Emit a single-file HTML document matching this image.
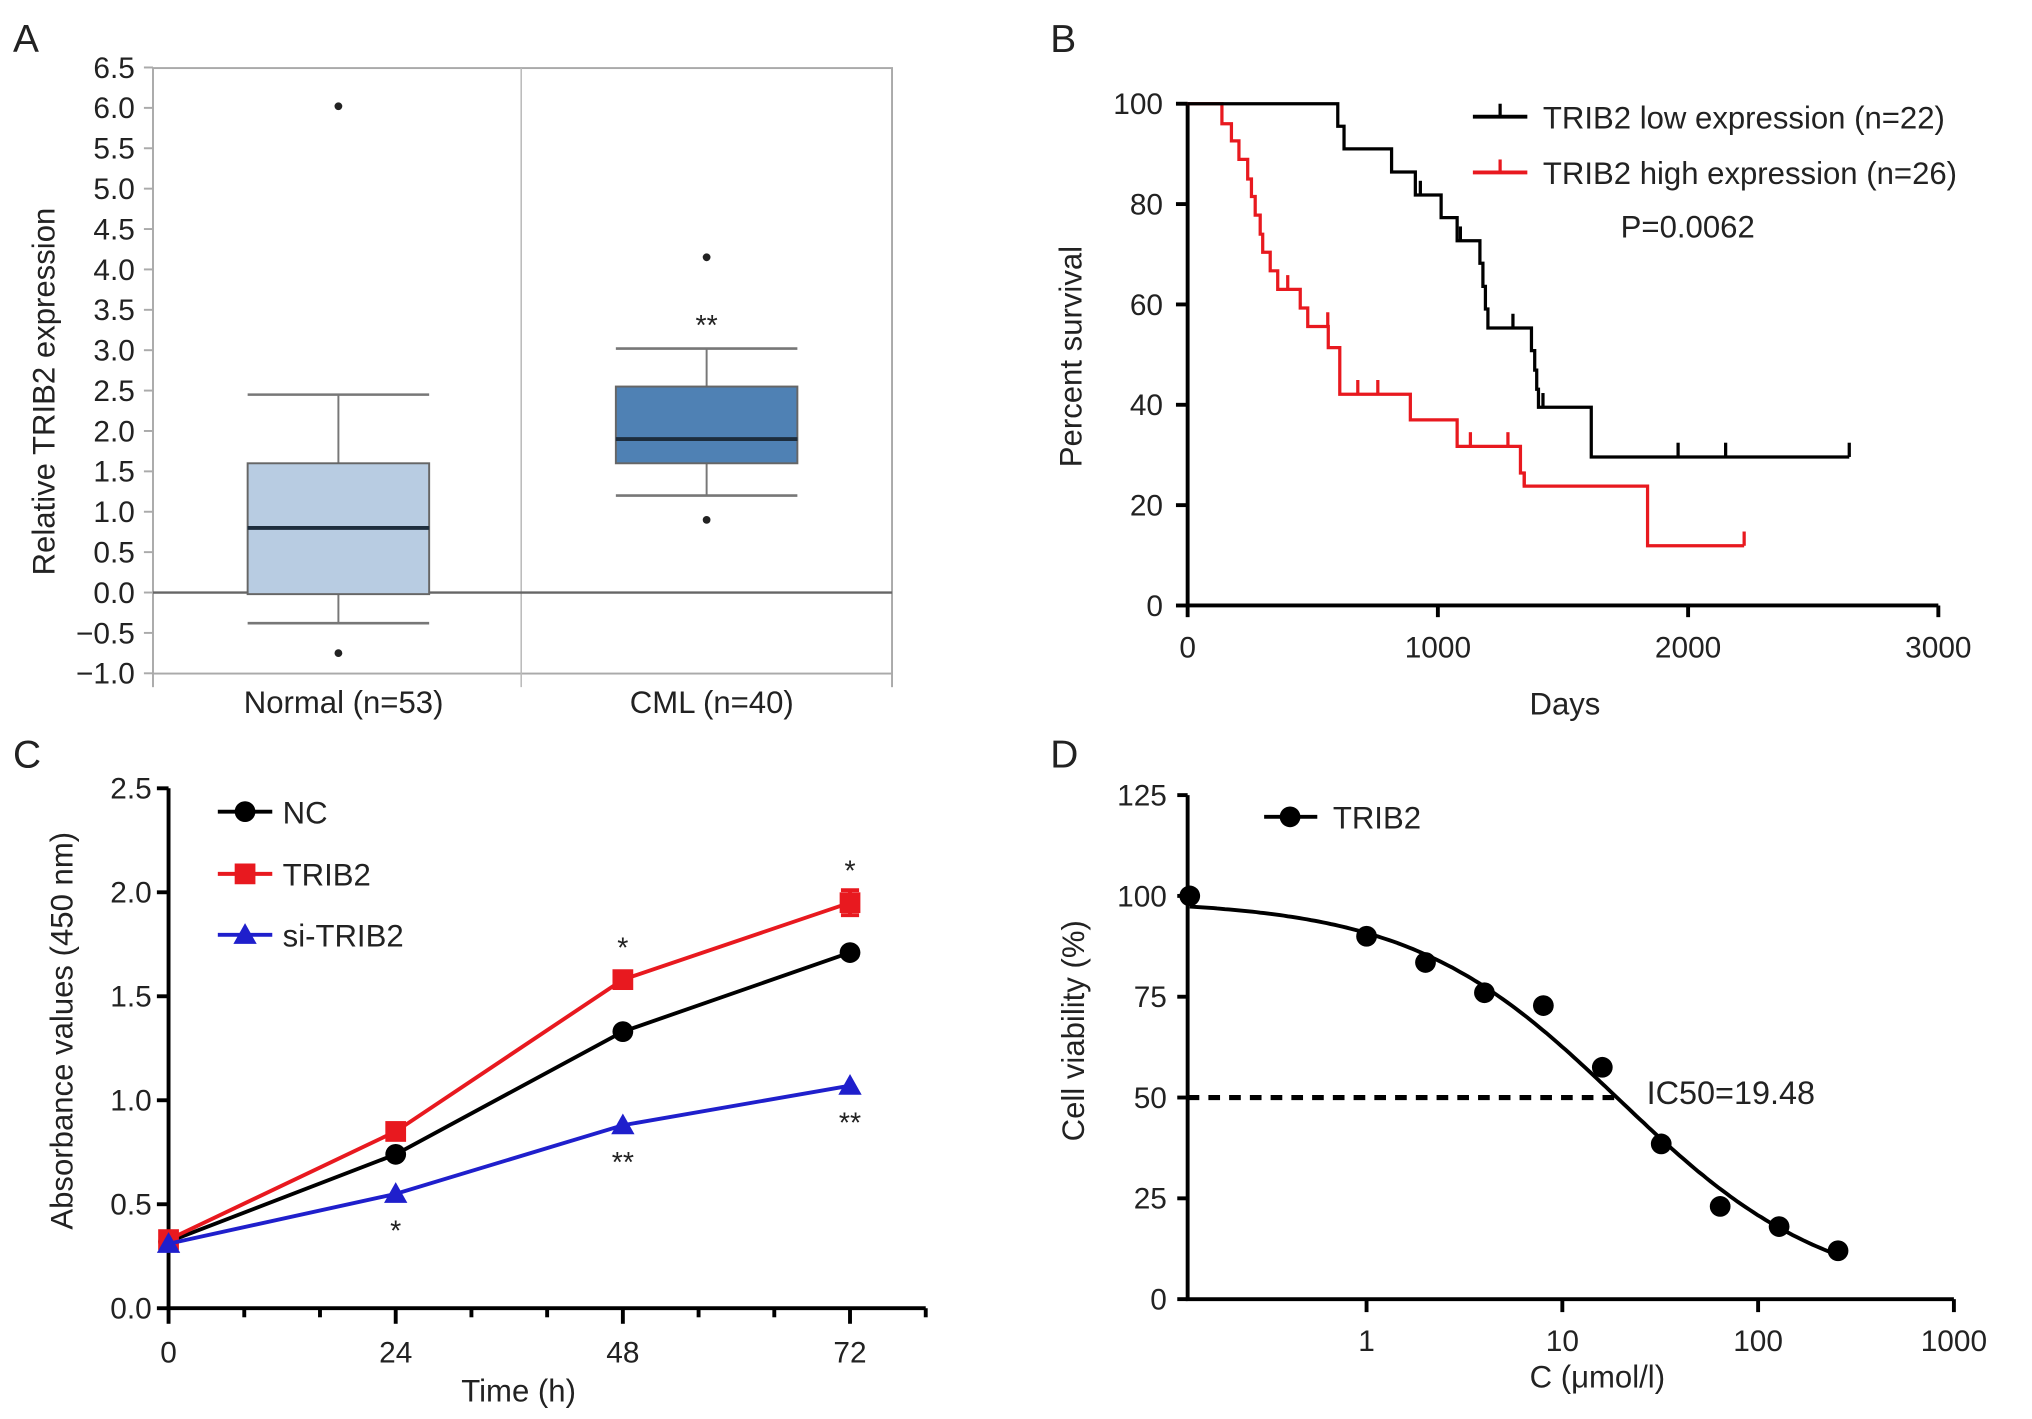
<!DOCTYPE html>
<html><head><meta charset="utf-8"><style>
html,body{margin:0;padding:0;background:#fff;}
svg{display:block;}
text{font-family:"Liberation Sans",Arial,sans-serif;fill:#222;}
</style></head><body>
<svg id="fig" width="2032" height="1419" viewBox="0 0 1550 1082.4" preserveAspectRatio="none" xmlns="http://www.w3.org/2000/svg">
<g transform="scale(0.989)">
<text x="10" y="40" font-size="30">A</text>
<text x="810" y="40" font-size="30">B</text>
<text x="10" y="592" font-size="30">C</text>
<text x="810" y="592" font-size="30">D</text>
<g id="pa"></g>
<g id="pb"></g>
<g id="pc"></g>
<g id="pd"></g>
</g>
</svg>
<script>
// ---------- Panel A data ----------
const aCategories = ["Normal (n=53)", "CML (n=40)"];
const aQ1 = [-0.02, 1.6];
const aMedian = [0.8, 1.9];
const aQ3 = [1.6, 2.55];
const aWhiskLo = [-0.38, 1.2];
const aWhiskHi = [2.45, 3.02];
const aOutliers = [[6.02, -0.75], [4.15, 0.9]];
const aTicks = [-1.0,-0.5,0.0,0.5,1.0,1.5,2.0,2.5,3.0,3.5,4.0,4.5,5.0,5.5,6.0,6.5];
const aSig = ["", "**"];
const aSigVal = [null, 3.35];
// ---------- Panel B data ----------
const bLowTimes = [0,600,625,815,910,1013,1077,1168,1180,1190,1200,1374,1387,1395,1402,1613,2644];
const bLowSurv  = [100,95.5,91,86.4,81.8,77.3,72.7,68.2,63.6,59.1,55.3,50.8,46.9,43.1,39.5,29.6,29.6];
const bLowCensor = [[930,81.8],[1090,72.7],[1300,55.3],[1420,39.5],[1960,29.6],[2150,29.6],[2644,29.6]];
const bHighTimes = [0,137,175,205,240,255,270,290,300,330,360,450,480,562,608,890,1077,1330,1345,1838,2224];
const bHighSurv  = [100,96,92.6,88.9,85,81.5,77.8,74,70.4,66.7,63,59.3,55.6,51.4,42.1,37,31.7,26.4,23.8,11.9,11.9];
const bHighCensor = [[400,63],[560,55.6],[680,42.1],[760,42.1],[1130,31.7],[1280,31.7],[1345,23.8],[2224,11.9]];
const bXTicks = [0,1000,2000,3000];
const bYTicks = [0,20,40,60,80,100];
// ---------- Panel C data ----------
const cTimes = [0,24,48,72];
const cNC = [0.32,0.74,1.33,1.71];
const cTRIB2 = [0.33,0.85,1.58,1.95];
const cTRIB2Err = [0.02,0.03,0.03,0.06];
const cSi = [0.31,0.55,0.88,1.07];
const cXTicks = [0,24,48,72];
const cYTicks = [0.0,0.5,1.0,1.5,2.0,2.5];
const cStarsAbove = [["",""],["",""],["*",1.58],["*",1.95]];
const cStarsBelow = [["",0],["*",0.55],["**",0.88],["**",1.07]];
// ---------- Panel D data ----------
const dConc = [0.125,1,2,4,8,16,32,64,128,256];
const dViab = [100,90,83.5,76,72.8,57.5,38.5,23,18,12];
const dXTicks = [1,10,100,1000];
const dYTicks = [0,25,50,75,100,125];
const dIC50 = [19.48];
const dTop = [99], dBottom = [0], dHill = [0.81];

const NS="http://www.w3.org/2000/svg";
function mk(parent, tag, attrs, txt){
  const e=document.createElementNS(NS,tag);
  for(const k in attrs) e.setAttribute(k,attrs[k]);
  if(txt!==undefined) e.textContent=txt;
  parent.appendChild(e); return e;
}
// ================= Panel A =================
(function(){
  const g=document.getElementById('pa');
  const L=118,R=688,T=52.5,B=519.5, mid=402;
  const ya=v=>457-(v)*62.3;
  const xa=i=>[261,545][i];
  let e;
  e=mk(g,'rect',{x:L,y:T,width:R-L,height:B-T,fill:'none',stroke:'#aaa','stroke-width':1.5});
  
  mk(g,'line',{x1:mid,y1:T,x2:mid,y2:530,stroke:'#bbb','stroke-width':1.2});
  mk(g,'line',{x1:L,y1:B,x2:L,y2:530,stroke:'#aaa','stroke-width':1.5});
  mk(g,'line',{x1:R,y1:B,x2:R,y2:530,stroke:'#aaa','stroke-width':1.5});
  e=mk(g,'line',{x1:L,y1:ya(0),x2:R,y2:ya(0),stroke:'#666','stroke-width':1.8});
  
  aTicks.forEach(t=>{
    mk(g,'line',{x1:L-7,y1:ya(t),x2:L,y2:ya(t),stroke:'#aaa','stroke-width':1.5});
    const tx=mk(g,'text',{x:104,y:ya(t)+8,'font-size':23,'text-anchor':'end'},(t<0?'\u2212':'')+Math.abs(t).toFixed(1));
    
  });
  e=mk(g,'text',{x:0,y:0,'font-size':24,'text-anchor':'middle',transform:'translate(42,302) rotate(-90)'},'Relative TRIB2 expression');
  
  const fills=['#b8cce2','#4f81b4'];
  aCategories.forEach((c,i)=>{
    const cx=xa(i), hw=70;
    mk(g,'line',{x1:cx,y1:ya(aWhiskHi[i]),x2:cx,y2:ya(aQ3[i]),stroke:'#777','stroke-width':1.5});
    mk(g,'line',{x1:cx,y1:ya(aWhiskLo[i]),x2:cx,y2:ya(aQ1[i]),stroke:'#777','stroke-width':1.5});
    mk(g,'line',{x1:cx-hw,y1:ya(aWhiskHi[i]),x2:cx+hw,y2:ya(aWhiskHi[i]),stroke:'#777','stroke-width':2});
    mk(g,'line',{x1:cx-hw,y1:ya(aWhiskLo[i]),x2:cx+hw,y2:ya(aWhiskLo[i]),stroke:'#777','stroke-width':2});
    const b=mk(g,'rect',{x:cx-hw,y:ya(aQ3[i]),width:2*hw,height:ya(aQ1[i])-ya(aQ3[i]),fill:fills[i],stroke:'#666','stroke-width':1.5});
    
    const m=mk(g,'line',{x1:cx-hw,y1:ya(aMedian[i]),x2:cx+hw,y2:ya(aMedian[i]),stroke:'#1d2d3d','stroke-width':3});
    
    aOutliers[i].forEach(o=>{const d=mk(g,'circle',{cx:cx,cy:ya(o),r:3,fill:'#222'});
      });
    if(aSig[i]){const s=mk(g,'text',{x:cx,y:ya(aSigVal[i])+10,'font-size':22,'text-anchor':'middle'},aSig[i]);
      }
    const l=mk(g,'text',{x:cx+4,y:550,'font-size':24,'text-anchor':'middle'},c);
    
  });
})();
// ================= Panel B =================
(function(){
  const g=document.getElementById('pb');
  const xb=d=>916+d*0.193, yb=p=>467-p*3.87;
  let e;
  e=mk(g,'path',{d:`M${xb(0)},${yb(100)-1}V${yb(0)}H${xb(3000)}`,fill:'none',stroke:'#000','stroke-width':3});
  
  bYTicks.forEach(t=>{mk(g,'line',{x1:xb(0)-9,y1:yb(t),x2:xb(0),y2:yb(t),stroke:'#000','stroke-width':3});
    const tx=mk(g,'text',{x:897,y:yb(t)+8,'font-size':23,'text-anchor':'end'},t);
    });
  bXTicks.forEach(t=>{mk(g,'line',{x1:xb(t),y1:yb(0),x2:xb(t),y2:yb(0)+9,stroke:'#000','stroke-width':3});
    const tx=mk(g,'text',{x:xb(t),y:507,'font-size':23,'text-anchor':'middle'},t);
    });
  e=mk(g,'text',{x:1207,y:551,'font-size':24,'text-anchor':'middle'},'Days');
  
  e=mk(g,'text',{x:0,y:0,'font-size':24,'text-anchor':'middle',transform:'translate(834,275) rotate(-90)'},'Percent survival');
  
  function km(times,surv,cens,col,name){
    let d=`M${xb(times[0])},${yb(surv[0])}`;
    for(let i=1;i<times.length;i++){d+=`H${xb(times[i])}V${yb(surv[i])}`;}
    const p=mk(g,'path',{d:d,fill:'none',stroke:col,'stroke-width':2.5});
    
    cens.forEach(c=>{const t=mk(g,'line',{x1:xb(c[0]),y1:yb(c[1]),x2:xb(c[0]),y2:yb(c[1])-11,stroke:col,'stroke-width':2.5});
      });
  }
  km(bHighTimes,bHighSurv,bHighCensor,'#e8191f','high-expression-curve');
  km(bLowTimes,bLowSurv,bLowCensor,'#000','low-expression-curve');
  [['#000','TRIB2 low expression (n=22)',90],['#e8191f','TRIB2 high expression (n=26)',133]].forEach((l,i)=>{
    mk(g,'line',{x1:1136,y1:l[2],x2:1178,y2:l[2],stroke:l[0],'stroke-width':3});
    mk(g,'line',{x1:1157,y1:l[2],x2:1157,y2:l[2]-10,stroke:l[0],'stroke-width':2.5});
    const t=mk(g,'text',{x:1190,y:l[2]+9,'font-size':24},l[1]);
    
  });
  e=mk(g,'text',{x:1250,y:183,'font-size':24},'P=0.0062');
  
})();
// ================= Panel C =================
(function(){
  const g=document.getElementById('pc');
  const xc=h=>130+h*7.3, yc=v=>1009-v*160.4;
  let e;
  e=mk(g,'path',{d:`M${xc(0)},${yc(2.5)}V${yc(0)}H${xc(80)}`,fill:'none',stroke:'#000','stroke-width':3});
  
  cYTicks.forEach(t=>{mk(g,'line',{x1:xc(0)-9,y1:yc(t),x2:xc(0),y2:yc(t),stroke:'#000','stroke-width':3});
    const tx=mk(g,'text',{x:117,y:yc(t)+8,'font-size':23,'text-anchor':'end'},t.toFixed(1));
    });
  for(let h=0;h<=80;h+=8){mk(g,'line',{x1:xc(h),y1:yc(0),x2:xc(h),y2:yc(0)+(h%24===0?12:7),stroke:'#000','stroke-width':3});}
  cXTicks.forEach(t=>{const tx=mk(g,'text',{x:xc(t),y:1051,'font-size':23,'text-anchor':'middle'},t);
    });
  e=mk(g,'text',{x:400,y:1081,'font-size':24,'text-anchor':'middle'},'Time (h)');
  
  e=mk(g,'text',{x:0,y:0,'font-size':24,'text-anchor':'middle',transform:'translate(56,795) rotate(-90)'},'Absorbance values (450 nm)');
  
  function marker(x,y,shape,col){
    if(shape==='c') return mk(g,'circle',{cx:x,cy:y,r:8,fill:col});
    if(shape==='s') return mk(g,'rect',{x:x-8,y:y-8,width:16,height:16,fill:col});
    return mk(g,'path',{d:`M${x},${y-9}L${x+9},${y+7}L${x-9},${y+7}Z`,fill:col});
  }
  function series(vals,col,shape,name,err){
    const pts=cTimes.map((t,i)=>xc(t)+','+yc(vals[i])).join(' ');
    const p=mk(g,'polyline',{points:pts,fill:'none',stroke:col,'stroke-width':3});
    
    cTimes.forEach((t,i)=>{
      if(err){const eb=mk(g,'path',{d:`M${xc(t)-7},${yc(vals[i]+err[i])}H${xc(t)+7}M${xc(t)},${yc(vals[i]+err[i])}V${yc(vals[i]-err[i])}M${xc(t)-7},${yc(vals[i]-err[i])}H${xc(t)+7}`,stroke:col,'stroke-width':3,fill:'none'});
        }
      const m=marker(xc(t),yc(vals[i]),shape,col);
      
    });
  }
  series(cNC,'#000','c','nc');
  series(cTRIB2,'#e8191f','s','trib2',cTRIB2Err);
  series(cSi,'#1f1fcc','t','si-trib2');
  cStarsAbove.forEach((s,i)=>{if(s[0]){const t=mk(g,'text',{x:xc(cTimes[i]),y:yc(s[1])-17,'font-size':22,'text-anchor':'middle'},s[0]);
    }});
  cStarsBelow.forEach((s,i)=>{if(s[0]){const t=mk(g,'text',{x:xc(cTimes[i]),y:yc(s[1])+36,'font-size':22,'text-anchor':'middle'},s[0]);
    }});
  [['NC','#000','c',626],['TRIB2','#e8191f','s',674],['si-TRIB2','#1f1fcc','t',721]].forEach(l=>{
    mk(g,'line',{x1:168,y1:l[3],x2:210,y2:l[3],stroke:l[1],'stroke-width':3});
    marker(189,l[3],l[2],l[1]);
    const t=mk(g,'text',{x:218,y:l[3]+9,'font-size':24},l[0]);
    
  });
})();
// ================= Panel D =================
(function(){
  const g=document.getElementById('pd');
  const xd=c=>1054+Math.log10(c)*151, yd=v=>1002-v*3.11;
  const x0=916;
  let e;
  e=mk(g,'path',{d:`M${x0},${yd(125)}V${yd(0)}H${xd(1000)}`,fill:'none',stroke:'#000','stroke-width':3});
  
  dYTicks.forEach(t=>{mk(g,'line',{x1:x0-8,y1:yd(t),x2:x0,y2:yd(t),stroke:'#000','stroke-width':3});
    const tx=mk(g,'text',{x:900,y:yd(t)+8,'font-size':23,'text-anchor':'end'},t);
    });
  dXTicks.forEach(t=>{mk(g,'line',{x1:xd(t),y1:yd(0),x2:xd(t),y2:yd(0)+10,stroke:'#000','stroke-width':3});
    const tx=mk(g,'text',{x:xd(t),y:1042,'font-size':23,'text-anchor':'middle'},t);
    });
  e=mk(g,'text',{x:1232,y:1070,'font-size':24,'text-anchor':'middle'},'C (\u03bcmol/l)');
  
  e=mk(g,'text',{x:0,y:0,'font-size':24,'text-anchor':'middle',transform:'translate(836,795) rotate(-90)'},'Cell viability (%)');
  
  let d='';
  for(let lx=Math.log10(dConc[0]);lx<=Math.log10(dConc[dConc.length-1])+0.001;lx+=0.02){
    const c=Math.pow(10,lx);
    const v=dBottom[0]+(dTop[0]-dBottom[0])/(1+Math.pow(c/dIC50[0],dHill[0]));
    d+=(d?'L':'M')+Math.max(x0,xd(c)).toFixed(1)+','+yd(v).toFixed(1);
  }
  e=mk(g,'path',{d:d,fill:'none',stroke:'#000','stroke-width':3});
  
  e=mk(g,'line',{x1:x0,y1:yd(50),x2:xd(dIC50[0]),y2:yd(50),stroke:'#000','stroke-width':4,'stroke-dasharray':'9,7'});
  
  e=mk(g,'text',{x:1270,y:yd(50)+5,'font-size':25},'IC50='+dIC50[0]);
  
  dConc.forEach((c,i)=>{const p=mk(g,'circle',{cx:Math.max(x0,xd(c)),cy:yd(dViab[i]),r:8,fill:'#000'});
    });
  mk(g,'line',{x1:975,y1:630,x2:1016,y2:630,stroke:'#000','stroke-width':3});
  mk(g,'circle',{cx:995,cy:630,r:8,fill:'#000'});
  e=mk(g,'text',{x:1028,y:639,'font-size':24},'TRIB2');
  
})();
</script>
</body></html>
